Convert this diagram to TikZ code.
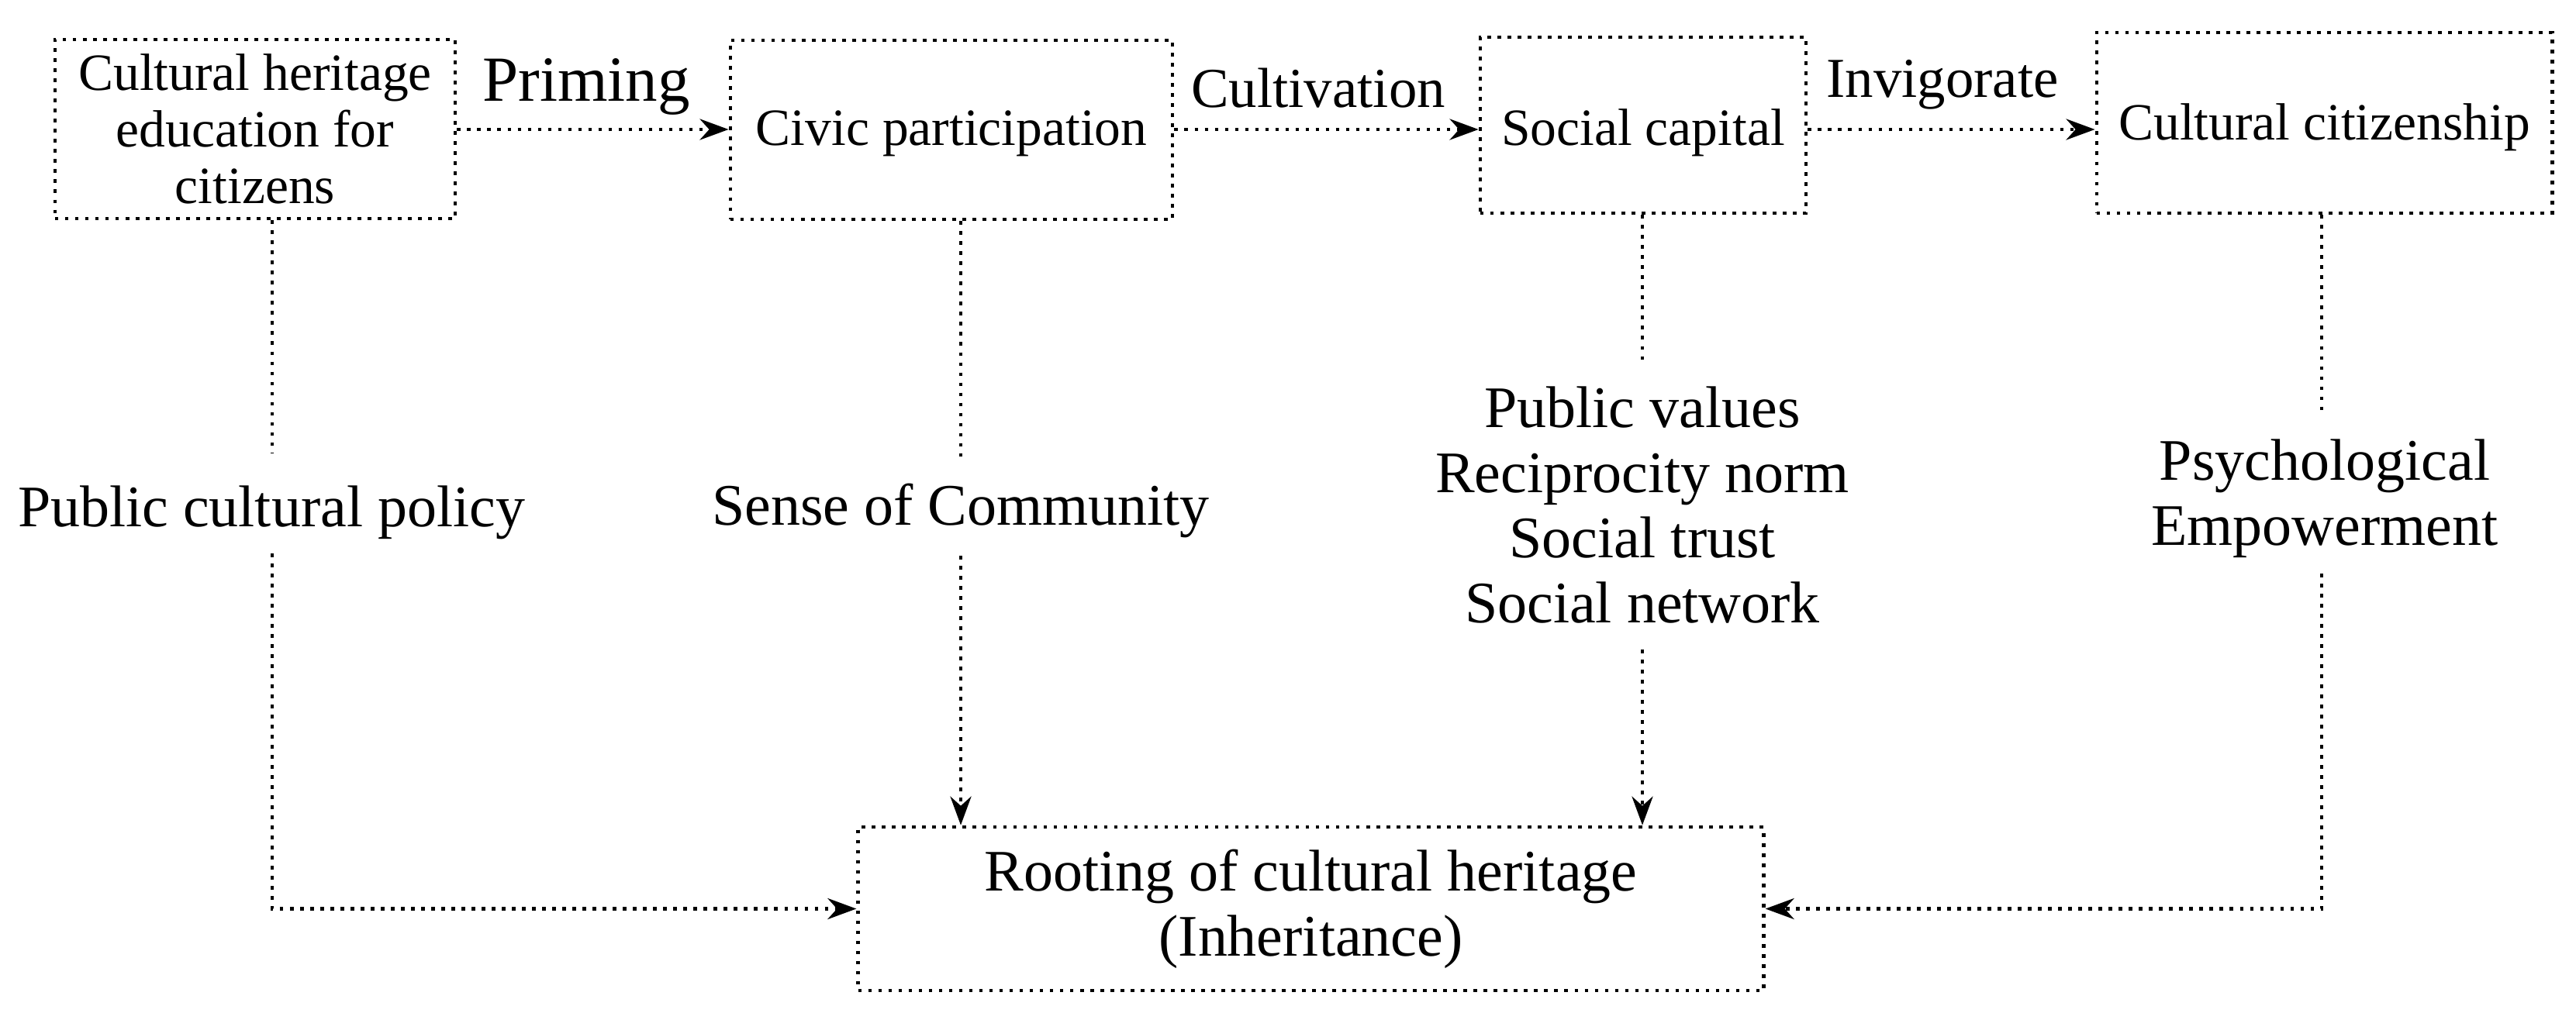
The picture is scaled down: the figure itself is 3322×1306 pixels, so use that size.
\documentclass[tikz,border=0pt]{standalone}
\usepackage{fontspec}
\setmainfont{Liberation Serif}
\usetikzlibrary{arrows.meta,calc}
\begin{document}
\begin{tikzpicture}[x=0.01cm,y=-0.01cm,
  dl/.style={line width=1.3pt,dash pattern=on 1.3pt off 2.4pt},
  arr/.style={dl,-{Stealth[length=0.37cm,width=0.27cm]}},
  box/.style={dl,draw,inner sep=0pt,align=center},
  btext/.style={font=\fontsize{19.2}{20.8}\selectfont},
  ltext/.style={font=\fontsize{21.6}{23.9}\selectfont,inner sep=0pt,align=center},
  atext/.style={font=\fontsize{20.7}{24}\selectfont,inner sep=0pt,anchor=base},
]
\useasboundingbox (0,0) rectangle (3322,1306);
% boxes
\node[box,btext,minimum width=5.16cm,minimum height=2.31cm] (b1) at (329,166.5) {Cultural heritage\\education for\\citizens};
\node[box,btext,minimum width=5.70cm,minimum height=2.31cm,text height=0.39cm,text depth=0pt] (b2) at (1227,167.5) {Civic participation};
\node[box,btext,minimum width=4.20cm,minimum height=2.27cm,text height=0.51cm,text depth=0pt] (b3) at (2119,161.5) {Social capital};
\node[box,btext,minimum width=5.87cm,minimum height=2.33cm,text height=0.43cm,text depth=0pt] (b4) at (2997.5,158.5) {Cultural citizenship};
\node[box,ltext,minimum width=11.67cm,minimum height=2.11cm] (r) at (1690.5,1172.5) {Rooting of cultural heritage\\(Inheritance)};
% arrow labels
\node[atext,font=\fontsize{23.6}{27}\selectfont] (lp) at (756,130) {Priming};
\node[atext] (lc) at (1700,138) {Cultivation};
\node[atext] (li) at (2505,125) {Invigorate};
% horizontal arrows
\coordinate (ay) at (0,167);
\draw[arr] (b1.east |- ay) -- (b2.west |- ay);
\draw[arr] (b2.east |- ay) -- (b3.west |- ay);
\draw[arr] (b3.east |- ay) -- (b4.west |- ay);
% column labels
\node[ltext,anchor=base] (t1) at (350,679) {Public cultural policy};
\node[ltext,anchor=base] (t2) at (1239,677) {Sense of Community};
\node[ltext] (t3) at (2118,651.5) {Public values\\Reciprocity norm\\Social trust\\Social network};
\node[ltext] (t4) at (2998,643) {Psychological\\Empowerment};
% line ends
\coordinate (c1a) at (351,585); \coordinate (c1b) at (351,714);
\coordinate (c2a) at (1239,593); \coordinate (c2b) at (1239,717);
\coordinate (c3a) at (2118,470); \coordinate (c3b) at (2118,838);
\coordinate (c4a) at (2994,532); \coordinate (c4b) at (2994,740);
\draw[dl] (c1a |- b1.south) -- (c1a);
\draw[arr] (c1b) -- (c1b |- r.west) -- (r.west);
\draw[dl] (c2a |- b2.south) -- (c2a);
\draw[arr] (c2b) -- (c2b |- r.north);
\draw[dl] (c3a |- b3.south) -- (c3a);
\draw[arr] (c3b) -- (c3b |- r.north);
\draw[dl] (c4a |- b4.south) -- (c4a);
\draw[arr] (c4b) -- (c4b |- r.east) -- (r.east);
\end{tikzpicture}
\end{document}
